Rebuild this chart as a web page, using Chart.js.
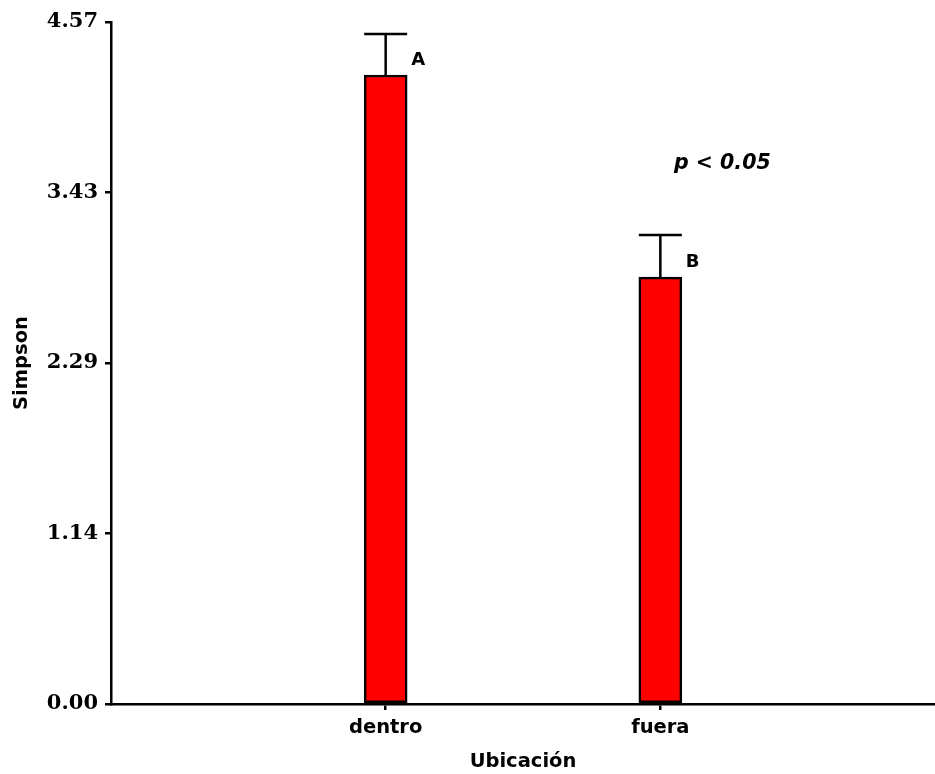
<html><head>
<style>body{margin:0;background:#fff}</style>
</head>
<body>
<script src="https://cdn.jsdelivr.net/npm/chart.js@4/dist/chart.umd.min.js"></script>
<canvas id="myChart" width="935" height="774"></canvas>
<script>
// data
categories = ['', 'dentro', 'fuera', ''];
simpson = [null, 4.215, 2.86, null];
simpsonErr = [null, 0.275, 0.283, null];
letters = [null, 'A', 'B', null];
yTickValues = [0, 1.1425, 2.285, 3.4275, 4.57];
yTickLabels = ['0.00', '1.14', '2.29', '3.43', '4.57'];
pText = 'p < 0.05';

sans = '"DejaVu Sans", Verdana, sans-serif';

errorBars = {
  id: 'errorBars',
  afterDatasetsDraw(chart) {
    ctx = chart.ctx;
    y = chart.scales.y;
    x = chart.scales.x;
    meta = chart.getDatasetMeta(0);
    ctx.save();
    ctx.strokeStyle = 'black';
    ctx.lineWidth = 2.5;
    for (let i = 0; i < simpson.length; i++) {
      if (simpson[i] == null) continue;
      bar = meta.data[i];
      half = bar.width / 2;
      yBar = y.getPixelForValue(simpson[i]);
      yTop = y.getPixelForValue(simpson[i] + simpsonErr[i]);
      ctx.beginPath();
      ctx.moveTo(bar.x, yBar);
      ctx.lineTo(bar.x, yTop);
      ctx.moveTo(bar.x - half, yTop);
      ctx.lineTo(bar.x + half, yTop);
      ctx.stroke();
      // significance letter
      ctx.fillStyle = 'black';
      ctx.font = 'bold 18px ' + sans;
      ctx.textAlign = 'left';
      ctx.textBaseline = 'middle';
      ctx.fillText(letters[i], bar.x + half + 4, y.getPixelForValue(simpson[i] + 0.1));
    }
    ctx.font = 'italic bold 20.5px ' + sans;
    ctx.textAlign = 'center';
    ctx.textBaseline = 'middle';
    ctx.fillText(pText, x.getPixelForValue(2) + 62, y.getPixelForValue(3.62));
    ctx.restore();
  }
};

ctx = document.getElementById('myChart').getContext('2d');
myChart = new Chart(ctx, {
  type: 'bar',
  data: {
    labels: categories,
    datasets: [{
      label: 'Simpson',
      data: simpson,
      backgroundColor: '#ff0000',
      borderColor: 'black',
      borderWidth: 2.5,
      borderSkipped: false,
      barThickness: 43
    }]
  },
  plugins: [errorBars],
  options: {
    responsive: false,
    animation: false,
    devicePixelRatio: 1,
    layout: { padding: { left: 0, right: 0, top: 22, bottom: 0 } },
    plugins: { legend: { display: false }, tooltip: { enabled: false } },
    scales: {
      x: {
        offset: false,
        afterFit(scale) {
          scale.height = 70;
          scale.paddingLeft = 0;
          scale.paddingRight = 0;
        },
        border: { display: true, color: 'black', width: 2.5 },
        grid: {
          offset: false,
          drawOnChartArea: false,
          drawTicks: true,
          tickLength: 6,
          lineWidth: 2.5,
          tickColor: (c) => (c.tick && c.tick.label) ? 'black' : 'rgba(0,0,0,0)'
        },
        ticks: {
          color: 'black',
          padding: 6,
          maxRotation: 0,
          autoSkip: false,
          font: { family: sans, size: 19.5, weight: 'bold' }
        },
        title: {
          display: true,
          text: 'Ubicación',
          color: 'black',
          padding: { top: 2, bottom: 0 },
          font: { family: sans, size: 19.5, weight: 'bold' }
        }
      },
      y: {
        min: 0,
        max: 4.57,
        afterFit(scale) { scale.width = 111; },
        afterBuildTicks(scale) { scale.ticks = yTickValues.map(v => ({ value: v })); },
        border: { display: true, color: 'black', width: 2.5 },
        grid: {
          drawOnChartArea: false,
          drawTicks: true,
          tickLength: 6,
          lineWidth: 2.5,
          tickColor: 'black'
        },
        ticks: {
          color: 'black',
          padding: 7,
          font: { family: '"DejaVu Serif", serif', size: 21, weight: 'bold' },
          callback: (v, i) => yTickLabels[i]
        },
        title: {
          display: true,
          text: 'Simpson',
          color: 'black',
          padding: { top: 10, bottom: 0 },
          font: { family: sans, size: 19.5, weight: 'bold' }
        }
      }
    }
  }
});
</script>
</body>
</html>
